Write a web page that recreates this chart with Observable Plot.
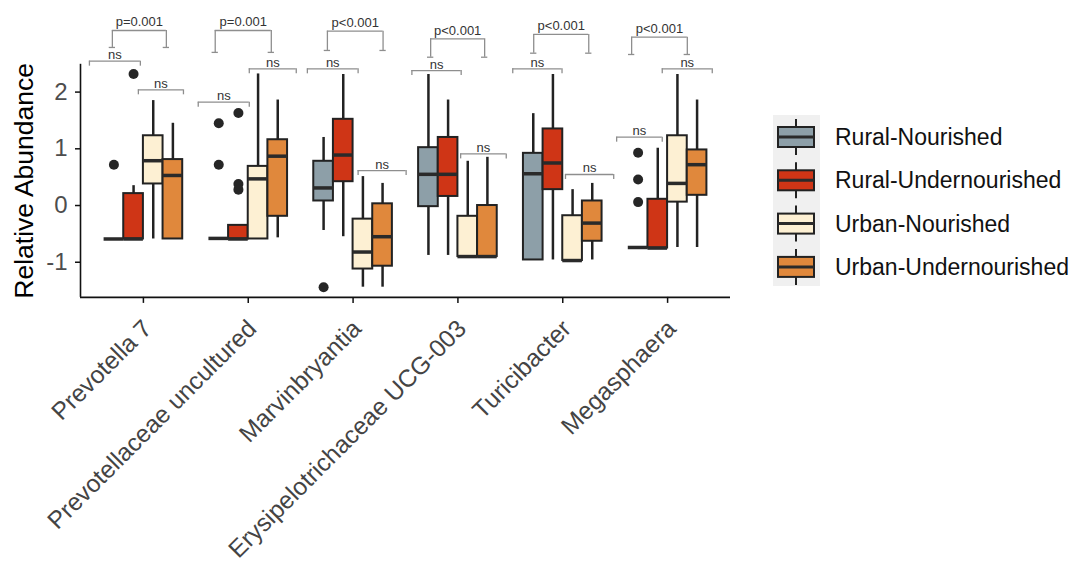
<!DOCTYPE html>
<html>
<head>
<meta charset="utf-8">
<script src="https://cdn.jsdelivr.net/npm/d3@7"></script>
<script src="https://cdn.jsdelivr.net/npm/@observablehq/plot@0.6"></script>
<style>
  html, body { margin: 0; padding: 0; background: #fff; }
  #wrap { position: relative; width: 1084px; height: 571px; font-family: "Liberation Sans", Arial, sans-serif; }
  #chart { position: absolute; left: 0; top: 0; }
  #legend { position: absolute; left: 750px; top: 0; }
</style>
</head>
<body>
<div id="wrap"><div id="chart"></div><div id="legend"></div></div>
<script>
// ---- data ----
const genera = ["Prevotella 7", "Prevotellaceae uncultured", "Marvinbryantia", "Erysipelotrichaceae UCG-003", "Turicibacter", "Megasphaera"];
const groups = ["Rural-Nourished", "Rural-Undernourished", "Urban-Nourished", "Urban-Undernourished"];
const colors = ["#8d9fa8", "#cf3516", "#fdf0d3", "#e0883c"];

// five-number summaries per group (one value per genus)
const RN_lo  = [-0.59, -0.58, -0.44, -0.88, -0.96, -0.74];
const RN_q1  = [-0.59, -0.58,  0.08, -0.02, -0.96, -0.74];
const RN_med = [-0.59, -0.58,  0.31,  0.55,  0.56, -0.74];
const RN_q3  = [-0.59, -0.58,  0.78,  1.02,  0.92, -0.74];
const RN_hi  = [-0.59, -0.58,  1.20,  2.31,  1.62, -0.74];

const RU_lo  = [-0.59, -0.59, -0.55, -0.88, -0.96, -0.75];
const RU_q1  = [-0.59, -0.59,  0.42,  0.16,  0.28, -0.75];
const RU_med = [-0.59, -0.59,  0.89,  0.55,  0.75, -0.75];
const RU_q3  = [ 0.21, -0.35,  1.52,  1.20,  1.35,  0.11];
const RU_hi  = [ 0.35, -0.35,  2.31,  1.86,  2.31,  1.01];

const UN_lo  = [-0.59, -0.59, -1.44, -0.90, -0.97, -0.74];
const UN_q1  = [ 0.38, -0.59, -1.12, -0.90, -0.97,  0.06];
const UN_med = [ 0.79,  0.47, -0.82, -0.90, -0.97,  0.39];
const UN_q3  = [ 1.23,  0.69, -0.24, -0.19, -0.18,  1.23];
const UN_hi  = [ 1.85,  2.32,  0.51,  0.78,  0.28,  2.31];

const UU_lo  = [-0.59, -0.57, -1.44, -0.90, -0.96, -0.74];
const UU_q1  = [-0.59, -0.19, -1.07, -0.90, -0.63,  0.18];
const UU_med = [ 0.53,  0.87, -0.55, -0.90, -0.31,  0.72];
const UU_q3  = [ 0.81,  1.16,  0.03,  0.00,  0.08,  0.98];
const UU_hi  = [ 1.45,  1.86,  0.39,  0.85,  0.39,  1.86];

// outliers
const outGenus = [0, 0, 1, 1, 1, 1, 1, 2, 5, 5, 5];
const outGroup = [0, 1, 0, 0, 1, 1, 1, 0, 0, 0, 0];
const outValue = [0.72, 2.32, 1.45, 0.72, 1.63, 0.38, 0.28, -1.44, 0.93, 0.46, 0.06];

// significance annotations (x offsets relative to genus, y in data units)
const nsL_from = [-0.515, -0.477, -0.436, -0.439, -0.477, -0.486];
const nsL_to   = [-0.029,  0.010,  0.048,  0.031, -0.007, -0.051];
const nsL_y    = [ 2.545,  1.822,  2.410,  2.380,  2.410,  1.205];
const nsR_from = [-0.048,  0.010,  0.048,  0.026,  0.026, -0.051];
const nsR_to   = [ 0.382,  0.458,  0.506,  0.461,  0.486,  0.426];
const nsR_y    = [ 2.040,  2.410,  0.617,  0.910,  0.547,  2.410];
const p_from   = [-0.296, -0.315, -0.245, -0.260, -0.277, -0.343];
const p_to     = [ 0.219,  0.220,  0.286,  0.255,  0.248,  0.188];
const p_top    = [ 3.086,  3.086,  3.074,  2.940,  3.016,  2.968];
const p_leg    = [ 2.787,  2.700,  2.734,  2.615,  2.686,  2.663];
const p_label  = ["p=0.001", "p=0.001", "p<0.001", "p<0.001", "p<0.001", "p<0.001"];

const yTicks = [-1, 0, 1, 2];

// ---- build tables ----
const summaries = [
  [RN_lo, RN_q1, RN_med, RN_q3, RN_hi],
  [RU_lo, RU_q1, RU_med, RU_q3, RU_hi],
  [UN_lo, UN_q1, UN_med, UN_q3, UN_hi],
  [UU_lo, UU_q1, UU_med, UU_q3, UU_hi]
];
const dodge = 0.75, bw = dodge / groups.length;
const boxes = [];
genera.forEach((g, i) => {
  groups.forEach((grp, j) => {
    const s = summaries[j];
    const x1 = i + 1 - dodge / 2 + j * bw;
    boxes.push({genus: g, group: grp, j, x1, x2: x1 + bw, xc: x1 + bw / 2,
      lo: s[0][i], q1: s[1][i], med: s[2][i], q3: s[3][i], hi: s[4][i]});
  });
});
const outliers = outValue.map((v, k) => ({
  x: outGenus[k] + 1 - dodge / 2 + (outGroup[k] + 0.5) * bw, y: v
}));
const brackets = genera.map((g, i) => ({
  c: i + 1,
  l1: i + 1 + nsL_from[i], l2: i + 1 + nsL_to[i], ly: nsL_y[i],
  r1: i + 1 + nsR_from[i], r2: i + 1 + nsR_to[i], ry: nsR_y[i],
  p1: i + 1 + p_from[i], p2: i + 1 + p_to[i], pt: p_top[i], pl: p_leg[i], label: p_label[i]
}));
const tip = 0.088, cap = 0.03;
const bStroke = "#8e8e8e", bWidth = 1.3;

const yLo = -1.62, yHi = 2.49;

const chart = Plot.plot({
  width: 750, height: 571,
  marginLeft: 80, marginRight: 20, marginTop: 63.8, marginBottom: 274.1,
  style: {fontFamily: "'Liberation Sans', Arial, sans-serif", background: "transparent"},
  x: {domain: [0.4, 6.6], axis: null},
  y: {domain: [yLo, yHi], axis: null},
  marks: [
    // axes
    Plot.axisY({ticks: yTicks, tickSize: 5, tickPadding: 8, tickFormat: d => String(d), fontSize: 24, color: "#4d4d4d", stroke: "#111", strokeWidth: 1.5, label: null}),
    Plot.axisX({ticks: d3.range(1, genera.length + 1), tickSize: 6, tickFormat: () => "", stroke: "#111", strokeWidth: 1.5, label: null}),
    Plot.ruleX([0.4], {y1: yLo, y2: yHi, stroke: "#111", strokeWidth: 1.6}),
    Plot.ruleY([yLo], {x1: 0.4, x2: 6.6, stroke: "#111", strokeWidth: 1.6}),
    Plot.text(genera, {x: (d, i) => i + 0.975, y: yLo - 0.36, text: d => d, rotate: -45, textAnchor: "end", lineAnchor: "top", fontSize: 24.5, fill: "#444"}),
    Plot.text(["Relative Abundance"], {frameAnchor: "left", dx: -56, rotate: -90, textAnchor: "middle", fontSize: 26.5, fill: "#000"}),
    // whiskers
    Plot.ruleX(boxes, {x: "xc", y1: "lo", y2: "q1", stroke: "#222", strokeWidth: 2.5}),
    Plot.ruleX(boxes, {x: "xc", y1: "q3", y2: "hi", stroke: "#222", strokeWidth: 2.5}),
    // boxes
    Plot.rect(boxes, {x1: "x1", x2: "x2", y1: "q1", y2: "q3", fill: d => colors[d.j], stroke: "#222", strokeWidth: 2}),
    Plot.ruleY(boxes, {y: "med", x1: "x1", x2: "x2", stroke: "#2a2a2a", strokeWidth: 3.5}),
    // outliers
    Plot.dot(outliers, {x: "x", y: "y", r: 5, fill: "#262626", stroke: "none"}),
    // ns brackets (left pair)
    Plot.ruleY(brackets, {y: "ly", x1: "l1", x2: "l2", stroke: bStroke, strokeWidth: bWidth}),
    Plot.ruleX(brackets, {x: "l1", y1: "ly", y2: d => d.ly - tip, stroke: bStroke, strokeWidth: bWidth}),
    Plot.ruleX(brackets, {x: "l2", y1: "ly", y2: d => d.ly - tip, stroke: bStroke, strokeWidth: bWidth}),
    Plot.text(brackets, {x: d => (d.l1 + d.l2) / 2, y: "ly", text: () => "ns", lineAnchor: "bottom", dy: -2, fontSize: 13, fill: "#333"}),
    // ns brackets (right pair)
    Plot.ruleY(brackets, {y: "ry", x1: "r1", x2: "r2", stroke: bStroke, strokeWidth: bWidth}),
    Plot.ruleX(brackets, {x: "r1", y1: "ry", y2: d => d.ry - tip, stroke: bStroke, strokeWidth: bWidth}),
    Plot.ruleX(brackets, {x: "r2", y1: "ry", y2: d => d.ry - tip, stroke: bStroke, strokeWidth: bWidth}),
    Plot.text(brackets, {x: d => (d.r1 + d.r2) / 2, y: "ry", text: () => "ns", lineAnchor: "bottom", dy: -2, fontSize: 13, fill: "#333"}),
    // p brackets
    Plot.ruleY(brackets, {y: "pt", x1: "p1", x2: "p2", stroke: bStroke, strokeWidth: bWidth}),
    Plot.ruleX(brackets, {x: "p1", y1: "pt", y2: "pl", stroke: bStroke, strokeWidth: bWidth}),
    Plot.ruleX(brackets, {x: "p2", y1: "pt", y2: "pl", stroke: bStroke, strokeWidth: bWidth}),
    Plot.ruleY(brackets, {y: "pl", x1: d => d.p1 - cap, x2: d => d.p1 + cap, stroke: bStroke, strokeWidth: bWidth}),
    Plot.ruleY(brackets, {y: "pl", x1: d => d.p2 - cap, x2: d => d.p2 + cap, stroke: bStroke, strokeWidth: bWidth}),
    Plot.text(brackets, {x: d => (d.p1 + d.p2) / 2, y: "pt", text: "label", lineAnchor: "bottom", dy: -4, fontSize: 13, fill: "#333"})
  ]
});
document.getElementById("chart").appendChild(chart);

// ---- legend (right side) ----
const lg = d3.select("#legend").append("svg").attr("width", 334).attr("height", 571)
  .style("font-family", "'Liberation Sans', Arial, sans-serif");
const rowY = i => 137 + i * 43.3;
lg.append("rect").attr("x", 23).attr("y", 115).attr("width", 47).attr("height", 171).attr("fill", "#f0f0f0");
groups.forEach((g, i) => {
  const cy = rowY(i);
  lg.append("line").attr("x1", 46).attr("x2", 46).attr("y1", cy - 18).attr("y2", cy + 18).attr("stroke", "#222").attr("stroke-width", 2);
  lg.append("rect").attr("x", 28).attr("y", cy - 10).attr("width", 36).attr("height", 20)
    .attr("fill", colors[i]).attr("stroke", "#222").attr("stroke-width", 2);
  lg.append("line").attr("x1", 28).attr("x2", 64).attr("y1", cy).attr("y2", cy).attr("stroke", "#2a2a2a").attr("stroke-width", 3);
  lg.append("text").attr("x", 85).attr("y", cy).attr("dy", "0.35em").attr("font-size", 23).attr("fill", "#111").text(g);
});
</script>
</body>
</html>
